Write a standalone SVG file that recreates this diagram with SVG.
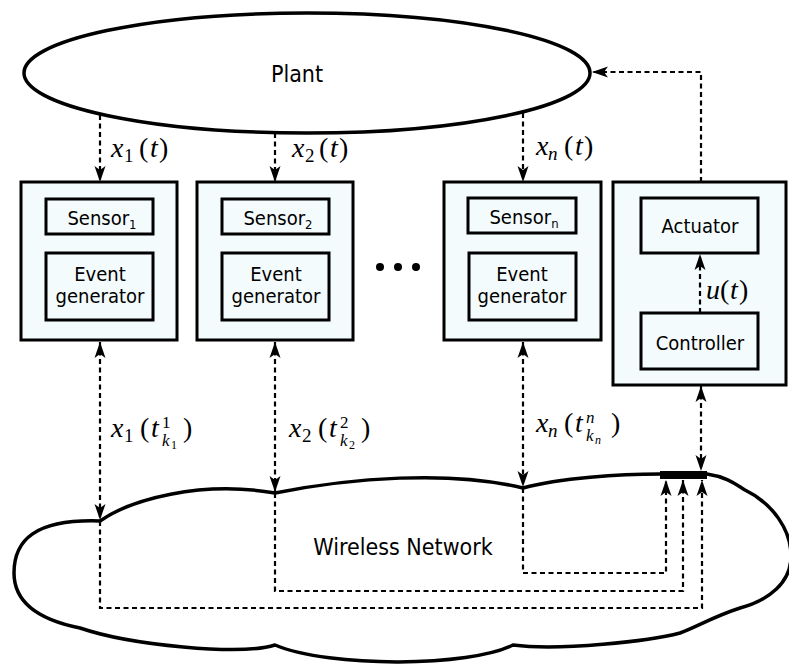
<svg xmlns="http://www.w3.org/2000/svg" width="789" height="666" viewBox="0 0 789 666">
<style>
.box{fill:#f4fbfd;stroke:#000;stroke-width:3}
.lbl{font-family:'DejaVu Sans Condensed','DejaVu Sans',sans-serif;font-stretch:condensed;font-size:20px;fill:#000;text-anchor:middle}
.big{font-size:23px}
.m{font-family:'Liberation Serif',serif;font-size:28px;fill:#000}
.i{font-style:italic}
.s{font-size:19px}
.ss{font-size:17px}
.sss{font-size:12px}
.d{fill:none;stroke:#000;stroke-width:2.2;stroke-dasharray:5 3.5}
.ar{marker-end:url(#ah)}
.ar2{marker-start:url(#ah);marker-end:url(#ah)}
</style>
<defs>
<marker id="ah" viewBox="-16 -6 17 12" refX="0" refY="0" markerWidth="17" markerHeight="12" markerUnits="userSpaceOnUse" orient="auto-start-reverse">
<path d="M0,0 L-16,-5.5 L-12,0 L-16,5.5 Z" fill="#000"/>
</marker>
</defs>

<g id="plant">
<ellipse cx="307" cy="73" rx="283" ry="60" fill="#fff" stroke="#000" stroke-width="3.5"/>
<text class="lbl big" x="297" y="82">Plant</text>
</g>

<g id="sensor1-node">
<rect class="box" x="21" y="182" width="156" height="158"/>
<g id="sensor1"><rect class="box" x="46" y="199" width="107" height="35"/>
<text class="lbl" x="102" y="225">Sensor<tspan font-size="13" dy="4">1</tspan></text></g>
<g id="eventgen1"><rect class="box" x="46" y="253" width="107" height="67"/>
<text class="lbl" x="100" y="281">Event</text><text class="lbl" x="100" y="303">generator</text></g>
</g>

<g id="sensor2-node">
<rect class="box" x="197" y="182" width="156" height="158"/>
<g id="sensor2"><rect class="box" x="222" y="199" width="107" height="35"/>
<text class="lbl" x="278" y="225">Sensor<tspan font-size="13" dy="4">2</tspan></text></g>
<g id="eventgen2"><rect class="box" x="222" y="253" width="107" height="67"/>
<text class="lbl" x="276" y="281">Event</text><text class="lbl" x="276" y="303">generator</text></g>
</g>

<g id="dots">
<circle cx="380" cy="267" r="4"/><circle cx="398" cy="267" r="4"/><circle cx="416" cy="267" r="4"/>
</g>

<g id="sensorn-node">
<rect class="box" x="444" y="182" width="157" height="158"/>
<g id="sensorn"><rect class="box" x="468" y="198" width="108" height="35"/>
<text class="lbl" x="524" y="224">Sensor<tspan font-size="13" dy="4">n</tspan></text></g>
<g id="eventgenn"><rect class="box" x="469" y="253" width="107" height="67"/>
<text class="lbl" x="522" y="281">Event</text><text class="lbl" x="522" y="303">generator</text></g>
</g>

<g id="controller-node">
<rect class="box" x="613" y="182" width="173" height="203"/>
<g id="actuator"><rect class="box" x="641" y="198" width="117" height="55"/>
<text class="lbl" x="700" y="233">Actuator</text></g>
<g id="controller"><rect class="box" x="641" y="313" width="117" height="56"/>
<text class="lbl" x="700" y="350">Controller</text></g>
</g>

<g id="network">
<path d="M100,521 C130,500 200,480 275,493 C350,478 450,470 523,488 C560,478 620,474 660,474 L707,474 C728,477 738,486 745,490 C772,503 792,530 791,558 C790,582 770,600 740,608 C715,616 696,627 680,633 C650,641 560,651 513,645 C470,667 330,668 275,645 C240,656 130,645 80,628 C40,620 14,603 14,573 C14,540 35,519 100,521 Z" fill="#fff" stroke="#000" stroke-width="3.5" stroke-linejoin="round"/>
<text class="lbl big" x="403" y="555">Wireless Network</text>
<rect x="660" y="471" width="47" height="8" fill="#000"/>
</g>

<g id="connectors">
<path class="d ar" d="M100,115 V182"/>
<path class="d ar" d="M275,133 V182"/>
<path class="d ar" d="M523,113 V182"/>
<path class="d ar" d="M701,182 V72 H592"/>
<path class="d ar" d="M700,313 V254"/>
<path class="d ar2" d="M100,342 V520"/>
<path class="d ar2" d="M275,342 V492"/>
<path class="d ar2" d="M523,342 V487"/>
<path class="d ar2" d="M701,386 V471"/>
<path class="d ar" d="M523,488 V573 H666 V480"/>
<path class="d ar" d="M275,493 V591 H683 V480"/>
<path class="d ar" d="M100,521 V608 H702 V480"/>
</g>

<g id="labels">
<text class="m" y="157"><tspan class="i" x="111">x</tspan><tspan class="s" x="124" y="162">1</tspan><tspan x="139" y="157">(</tspan><tspan class="i" x="150">t</tspan><tspan x="159">)</tspan></text>
<text class="m" y="157"><tspan class="i" x="292">x</tspan><tspan class="s" x="305" y="162">2</tspan><tspan x="319" y="157">(</tspan><tspan class="i" x="330">t</tspan><tspan x="339">)</tspan></text>
<text class="m" y="155"><tspan class="i" x="536">x</tspan><tspan class="s i" x="548" y="160">n</tspan><tspan x="564" y="155">(</tspan><tspan class="i" x="575">t</tspan><tspan x="584">)</tspan></text>
<text class="m" y="299"><tspan class="i" x="706">u</tspan><tspan x="720">(</tspan><tspan class="i" x="730">t</tspan><tspan x="739">)</tspan></text>

<text class="m" y="437"><tspan class="i" x="111">x</tspan><tspan class="s" x="124" y="442">1</tspan><tspan x="140" y="437">(</tspan><tspan class="i" x="151">t</tspan><tspan class="ss" x="162" y="428">1</tspan><tspan class="ss i" x="162" y="446">k</tspan><tspan class="sss" x="171" y="449">1</tspan><tspan x="183" y="437">)</tspan></text>
<text class="m" y="437"><tspan class="i" x="289">x</tspan><tspan class="s" x="302" y="442">2</tspan><tspan x="318" y="437">(</tspan><tspan class="i" x="329">t</tspan><tspan class="ss" x="340" y="428">2</tspan><tspan class="ss i" x="340" y="446">k</tspan><tspan class="sss" x="349" y="449">2</tspan><tspan x="361" y="437">)</tspan></text>
<text class="m" y="432"><tspan class="i" x="536">x</tspan><tspan class="s i" x="548" y="437">n</tspan><tspan x="564" y="432">(</tspan><tspan class="i" x="575">t</tspan><tspan class="ss i" x="586" y="423">n</tspan><tspan class="ss i" x="586" y="441">k</tspan><tspan class="sss i" x="595" y="444">n</tspan><tspan x="611" y="432">)</tspan></text>
</g>
</svg>
